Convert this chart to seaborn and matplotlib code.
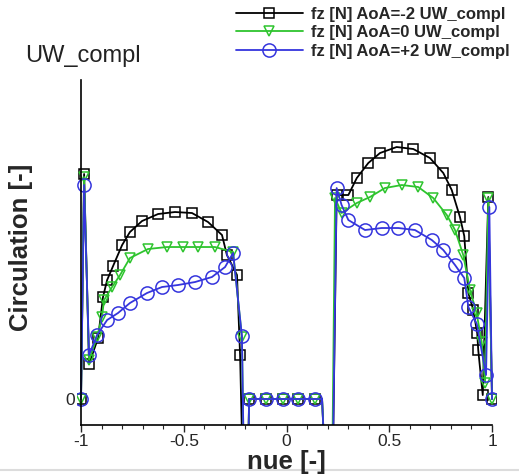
import numpy as np
import pandas as pd
import matplotlib
matplotlib.use("Agg")
import matplotlib.pyplot as plt
from matplotlib.ticker import MultipleLocator, FuncFormatter
from matplotlib.lines import Line2D
import seaborn as sns

# ---------------- data ----------------
# fuselage section (shared by all three cases); -2 values lie below the visible range
fus_x = [-0.198, -0.182, -0.100, -0.017, 0.056, 0.139, 0.173, 0.216]
fus_y = [-2.0, 0.0, 0.0, 0.0, 0.0, 0.0, 0.0, -2.0]
no_marker_x = [0.173]

# AoA = -2
m2_left_x = [-1.0, -0.985, -0.961, -0.917, -0.893, -0.873, -0.844, -0.800, -0.762,
             -0.703, -0.625, -0.543, -0.460, -0.382, -0.314, -0.290, -0.241, -0.226]
m2_left_y = [0.0, 2.25, 0.35, 0.61, 1.02, 1.19, 1.33, 1.54, 1.67,
             1.78, 1.85, 1.87, 1.86, 1.77, 1.64, 1.44, 1.24, 0.44]
m2_right_x = [0.244, 0.301, 0.342, 0.398, 0.455, 0.536, 0.617, 0.698, 0.763, 0.804,
              0.844, 0.865, 0.885, 0.909, 0.928, 0.933, 0.955, 0.982, 1.0]
m2_right_y = [2.04, 2.04, 2.21, 2.36, 2.46, 2.52, 2.50, 2.41, 2.26, 2.09,
              1.82, 1.63, 1.06, 0.89, 0.66, 0.49, 0.04, 2.02, 0.0]

# AoA = 0
a0_left_x = [-1.0, -0.985, -0.961, -0.922, -0.898, -0.888, -0.849, -0.810, -0.762,
             -0.674, -0.582, -0.504, -0.431, -0.348, -0.260, -0.217]
a0_left_y = [0.0, 2.22, 0.39, 0.62, 0.82, 0.99, 1.12, 1.24, 1.41,
             1.50, 1.52, 1.52, 1.52, 1.52, 1.47, 0.62]
a0_right_x = [0.236, 0.268, 0.342, 0.406, 0.479, 0.561, 0.641, 0.714, 0.780, 0.820,
              0.860, 0.893, 0.925, 0.950, 0.966, 0.982, 1.0]
a0_right_y = [2.01, 1.86, 1.96, 2.02, 2.11, 2.14, 2.12, 2.01, 1.84, 1.69,
              1.44, 1.09, 0.86, 0.57, 0.16, 2.01, 0.0]

# AoA = +2
p2_left_x = [-1.0, -0.985, -0.961, -0.922, -0.873, -0.820, -0.762, -0.679, -0.606,
             -0.528, -0.445, -0.363, -0.299, -0.260, -0.217]
p2_left_y = [0.0, 2.14, 0.44, 0.64, 0.79, 0.86, 0.96, 1.06, 1.12,
             1.14, 1.17, 1.22, 1.32, 1.46, 0.63]
p2_right_x = [0.244, 0.268, 0.301, 0.382, 0.463, 0.544, 0.625, 0.707, 0.763, 0.820,
              0.865, 0.885, 0.926, 0.971, 0.987, 1.0]
p2_right_y = [2.11, 1.94, 1.79, 1.69, 1.71, 1.71, 1.69, 1.59, 1.49, 1.34,
              1.21, 0.92, 0.75, 0.24, 1.92, 0.0]

labels = ["fz [N] AoA=-2 UW_compl", "fz [N] AoA=0 UW_compl", "fz [N] AoA=+2 UW_compl"]
x_ticks = [-1, -0.5, 0, 0.5, 1]

# ---------------- styling ----------------
sns.set_style("white")
plt.rcParams["font.family"] = ["Liberation Sans", "DejaVu Sans"]

fig = plt.figure(figsize=(5.19, 4.76), dpi=100)
ax = fig.add_axes([0.1482, 0.1071, 0.8077, 0.7248])

series = [
    (labels[0], m2_left_x + fus_x + m2_right_x, m2_left_y + fus_y + m2_right_y, "#000000", "s", 7.0),
    (labels[1], a0_left_x + fus_x + a0_right_x, a0_left_y + fus_y + a0_right_y, "#2ec42e", "v", 7.5),
    (labels[2], p2_left_x + fus_x + p2_right_x, p2_left_y + fus_y + p2_right_y, "#3535dd", "o", 9.5),
]

for lab, xs, ys, col, mk, ms in series:
    df = pd.DataFrame({"nue": xs, "circ": ys})
    idx = [i for i, v in enumerate(xs) if v not in no_marker_x]
    sns.lineplot(data=df, x="nue", y="circ", ax=ax, sort=False, estimator=None,
                 color=col, lw=1.3, marker=mk, markersize=ms,
                 markerfacecolor="none", markeredgecolor=col, markeredgewidth=1.1,
                 markevery=idx, label=lab)

if ax.get_legend() is not None:
    ax.get_legend().remove()

ax.set_xlim(-1.02, 1.02)
ax.set_ylim(-0.26, 3.19)

for s in ["top", "right"]:
    ax.spines[s].set_visible(False)
ax.spines["left"].set_position(("data", -1))
ax.spines["bottom"].set_bounds(-1, 1)
for s in ["left", "bottom"]:
    ax.spines[s].set_color("black")
    ax.spines[s].set_linewidth(1.2)

ax.xaxis.set_major_locator(MultipleLocator(0.5))
ax.xaxis.set_minor_locator(MultipleLocator(0.1))
ax.xaxis.set_major_formatter(FuncFormatter(lambda v, p: f"{round(v, 6) + 0:g}"))
ax.set_yticks([0])
ax.set_yticklabels(["0"])
ax.tick_params(axis="x", which="major", direction="out", length=5, width=1, labelsize=12.5, pad=1.5,
               bottom=True)
ax.tick_params(axis="x", which="minor", direction="out", length=3, width=0.8, bottom=True)
ax.tick_params(axis="y", length=0, pad=4, labelsize=12.5, left=True)

ax.set_xlabel("nue [-]", fontsize=18.5, fontweight="bold")
ax.xaxis.set_label_coords(0.501, -0.072)
ax.set_ylabel("Circulation [-]", fontsize=18.5, fontweight="bold")
ax.yaxis.set_label_coords(-0.105, 0.516)

fig.text(25 / 519, 1 - 62 / 476, "UW_compl", fontsize=17, color="#222222", ha="left", va="baseline")

handles, labs = ax.get_legend_handles_labels()
fig.legend(handles, labs, loc="upper left", bbox_to_anchor=(236 / 519, 1 - 7 / 476),
           frameon=False, prop={"weight": "bold", "size": 12},
           handlelength=4.0, handletextpad=0.48, labelspacing=0.2,
           borderpad=0, borderaxespad=0)

fig.add_artist(Line2D([0, 1], [1 - 470 / 476] * 2, color="#dcdcdc", lw=1.5,
                      transform=fig.transFigure, zorder=0))

fig.savefig("out.png", dpi=100)
